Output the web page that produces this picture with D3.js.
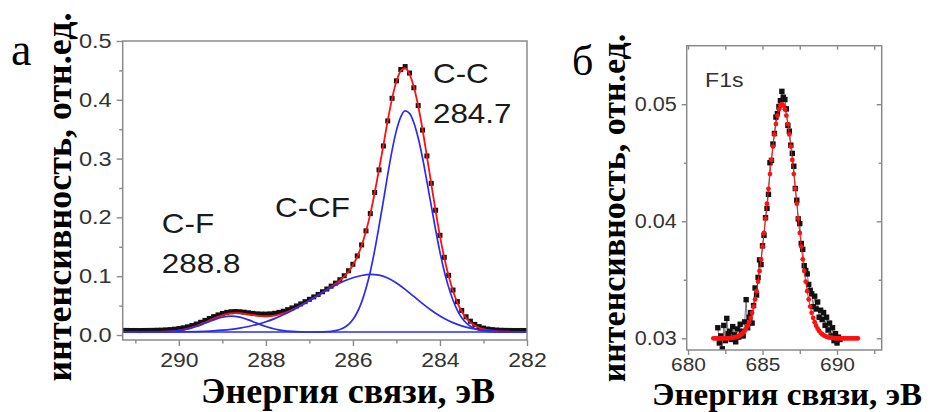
<!DOCTYPE html>
<html>
<head>
<meta charset="utf-8">
<script src="https://cdn.jsdelivr.net/npm/d3@7"></script>
<style>
  body { margin: 0; background: #fff; }
  svg { display: block; }
</style>
</head>
<body>
<script>
// ---------- panel a: C1s, measured points / fit / components ----------
let measuredA = [[291.3,.0078],[291.2,.0078],[291.1,.0077],[291.0,.0077],[290.9,.0076],[290.8,.0077],[290.7,.0078],[290.6,.0079],[290.5,.0081],[290.4,.0083],[290.3,.0087],[290.2,.0092],[290.1,.0099],[290.0,.0109],[289.9,.0122],[289.8,.0139],[289.7,.0161],[289.6,.0187],[289.5,.0216],[289.4,.0248],[289.3,.0281],[289.2,.0313],[289.1,.0342],[289.0,.0366],[288.9,.0385],[288.8,.0396],[288.7,.0399],[288.6,.0396],[288.5,.0388],[288.4,.0378],[288.3,.0368],[288.2,.0360],[288.1,.0356],[288.0,.0356],[287.9,.0360],[287.8,.0369],[287.7,.0385],[287.6,.0404],[287.5,.0431],[287.4,.0461],[287.3,.0494],[287.2,.0529],[287.1,.0567],[287.0,.0607],[286.9,.0648],[286.8,.0690],[286.7,.0736],[286.6,.0782],[286.5,.0831],[286.4,.0882],[286.3,.0940],[286.2,.1008],[286.1,.1093],[286.0,.1203],[285.9,.1345],[285.8,.1532],[285.7,.1771],[285.6,.2065],[285.5,.2425],[285.4,.2808],[285.3,.3215],[285.2,.3641],[285.1,.4025],[285.0,.4322],[284.9,.4515],[284.8,.4565],[284.7,.4455],[284.6,.4205],[284.5,.3902],[284.4,.3485],[284.3,.3045],[284.2,.2580],[284.1,.2122],[284.0,.1695],[283.9,.1321],[283.8,.1015],[283.7,.0765],[283.6,.0568],[283.5,.0418],[283.4,.0310],[283.3,.0235],[283.2,.0181],[283.1,.0143],[283.0,.0118],[282.9,.0102],[282.8,.0092],[282.7,.0085],[282.6,.0081],[282.5,.0079],[282.4,.0078],[282.3,.0077],[282.2,.0077],[282.1,.0077],[282.0,.0077]];

let fitA = [[291.3,.005],[291.2,.005],[291.1,.005],[291.0,.005],[290.9,.005],[290.8,.005],[290.7,.005],[290.6,.0051],[290.5,.0053],[290.4,.0055],[290.3,.0059],[290.2,.0063],[290.1,.0070],[290.0,.0078],[289.9,.0091],[289.8,.0107],[289.7,.0128],[289.6,.0153],[289.5,.0181],[289.4,.0213],[289.3,.0246],[289.2,.0278],[289.1,.0309],[289.0,.0335],[288.9,.0355],[288.8,.0367],[288.7,.0373],[288.6,.0371],[288.5,.0364],[288.4,.0352],[288.3,.0341],[288.2,.0329],[288.1,.0322],[288.0,.0319],[287.9,.0322],[287.8,.0331],[287.7,.0347],[287.6,.0368],[287.5,.0396],[287.4,.0428],[287.3,.0464],[287.2,.0502],[287.1,.0543],[287.0,.0587],[286.9,.0630],[286.8,.0675],[286.7,.0723],[286.6,.0770],[286.5,.0819],[286.4,.0870],[286.3,.0927],[286.2,.0996],[286.1,.1080],[286.0,.1190],[285.9,.1332],[285.8,.1521],[285.7,.1764],[285.6,.2060],[285.5,.2419],[285.4,.2818],[285.3,.3227],[285.2,.3648],[285.1,.4020],[285.0,.4314],[284.9,.4492],[284.8,.4537],[284.7,.4437],[284.6,.4216],[284.5,.3895],[284.4,.3495],[284.3,.3037],[284.2,.2572],[284.1,.2110],[284.0,.1683],[283.9,.1310],[283.8,.1002],[283.7,.0749],[283.6,.0550],[283.5,.0400],[283.4,.0292],[283.3,.0215],[283.2,.0161],[283.1,.0124],[283.0,.0100],[282.9,.0084],[282.8,.0073],[282.7,.0065],[282.6,.0060],[282.5,.0057],[282.4,.0055],[282.3,.0053],[282.2,.0052],[282.1,.0051],[282.0,.0051]];

// C-F component (288.8)
let cfA = [[290.8,.005],[290.6,.0051],[290.4,.0054],[290.2,.0061],[290.0,.0075],[289.8,.0102],[289.6,.0144],[289.4,.0199],[289.2,.0257],[289.0,.0303],[288.8,.0320],[288.6,.0303],[288.4,.0257],[288.2,.0199],[288.0,.0144],[287.8,.0102],[287.6,.0075],[287.4,.0061],[287.2,.0054],[287.0,.0051],[286.8,.005]];
// C-CF component (~285.6)
let ccfA = [[291.3,.005],[291.0,.005],[290.8,.005],[290.6,.005],[290.4,.0051],[290.2,.0052],[290.0,.0053],[289.8,.0055],[289.6,.0059],[289.4,.0064],[289.2,.0071],[289.0,.0082],[288.8,.0097],[288.6,.0118],[288.4,.0145],[288.2,.0180],[288.0,.0225],[287.8,.0279],[287.6,.0343],[287.4,.0417],[287.2,.0498],[287.0,.0586],[286.8,.0675],[286.6,.0764],[286.4,.0846],[286.2,.0918],[286.0,.0974],[285.8,.1012],[285.6,.1030],[285.4,.1018],[285.2,.0968],[285.0,.0884],[284.8,.0777],[284.6,.0656],[284.4,.0535],[284.2,.0422],[284.0,.0323],[283.8,.0242],[283.6,.0180],[283.4,.0134],[283.2,.0102],[283.0,.0081],[282.8,.0068],[282.6,.0059],[282.4,.0055],[282.2,.0052],[282.0,.0051]];
// C-C component (284.7)
let ccA = [[286.8,.005],[286.7,.0053],[286.6,.0056],[286.5,.0063],[286.4,.0074],[286.3,.0094],[286.2,.0128],[286.1,.0182],[286.0,.0265],[285.9,.0387],[285.8,.0559],[285.7,.0790],[285.6,.1080],[285.5,.1440],[285.4,.1850],[285.3,.2280],[285.2,.2730],[285.1,.3140],[285.0,.3480],[284.9,.3710],[284.8,.3810],[284.7,.3770],[284.6,.3610],[284.5,.3350],[284.4,.3010],[284.3,.2610],[284.2,.2200],[284.1,.1790],[284.0,.1410],[283.9,.1080],[283.8,.0810],[283.7,.0590],[283.6,.0420],[283.5,.0295],[283.4,.0208],[283.3,.0148],[283.2,.0109],[283.1,.0084],[283.0,.0069],[282.9,.0060],[282.8,.0055],[282.7,.0052]];
let baselineA = 0.005;

let xTicksA = [290, 288, 286, 284, 282];
let xMinorA = [291, 289, 287, 285, 283];
let yTicksA = [0, 0.1, 0.2, 0.3, 0.4, 0.5];
let yMinorA = [0.05, 0.15, 0.25, 0.35, 0.45];
let peakLabelsA = [
    {lines: ["C-F", "288.8"], e: 290.39, v: 0.1735},
    {lines: ["C-CF"], e: 287.79, v: 0.2007},
    {lines: ["C-C", "284.7"], e: 284.16, v: 0.4286}
];

// ---------- panel b: F1s ----------
let measuredB = [[682.0,.0309],[682.1,.0296],[682.2,.0302],[682.3,.0291],[682.4,.0311],[682.5,.0298],[682.6,.0317],[682.7,.0304],[682.8,.0306],[682.9,.0299],[683.0,.0310],[683.1,.0303],[683.2,.0297],[683.3,.0308],[683.4,.0301],[683.5,.0312],[683.6,.0306],[683.7,.0302],[683.8,.0314],[683.9,.0333],[684.0,.0309],[684.1,.0318],[684.2,.0322],[684.3,.0313],[684.4,.0328],[684.5,.0343],[684.6,.0337],[684.7,.0352],[684.8,.0367],[684.9,.0363],[685.0,.0379],[685.1,.0388],[685.2,.0403],[685.3,.0411],[685.4,.0423],[685.5,.0450],[685.6,.0452],[685.7,.0466],[685.8,.0475],[685.9,.0489],[686.0,.0492],[686.1,.0498],[686.2,.0503],[686.3,.0511],[686.4,.0506],[686.5,.0504],[686.6,.0496],[686.7,.0482],[686.8,.0477],[686.9,.0465],[687.0,.0458],[687.1,.0447],[687.2,.0428],[687.3,.0418],[687.4,.0402],[687.5,.0398],[687.6,.0381],[687.7,.0376],[687.8,.0362],[687.9,.0358],[688.0,.0355],[688.1,.0346],[688.2,.0341],[688.3,.0338],[688.4,.0327],[688.5,.0336],[688.6,.0325],[688.7,.0331],[688.8,.0318],[688.9,.0324],[689.0,.0316],[689.1,.0322],[689.2,.0311],[689.3,.0318],[689.4,.0307],[689.5,.0313],[689.6,.0302],[689.7,.0309],[689.8,.0298],[689.9,.0304],[690.0,.0296],[690.1,.0301],[690.2,.0299]];

let fitB = [[681.7,.03],[681.8,.03],[681.9,.03],[682.0,.03],[682.1,.03],[682.2,.03],[682.3,.03],[682.4,.03],[682.5,.03],[682.6,.03],[682.7,.03],[682.8,.03002],[682.9,.03003],[683.0,.03005],[683.1,.03007],[683.2,.0301],[683.3,.03014],[683.4,.03019],[683.5,.03026],[683.6,.03035],[683.7,.03047],[683.8,.03063],[683.9,.03082],[684.0,.03107],[684.1,.03137],[684.2,.03174],[684.3,.03218],[684.4,.03271],[684.5,.03332],[684.6,.03403],[684.7,.03484],[684.8,.03575],[684.9,.03675],[685.0,.03784],[685.1,.039],[685.2,.04023],[685.3,.0415],[685.4,.04277],[685.5,.04403],[685.6,.04524],[685.7,.04638],[685.8,.04742],[685.9,.0483],[686.0,.04903],[686.1,.04956],[686.2,.04989],[686.3,.05],[686.4,.04989],[686.5,.04956],[686.6,.04903],[686.7,.0483],[686.8,.04742],[686.9,.04638],[687.0,.04524],[687.1,.04403],[687.2,.04277],[687.3,.0415],[687.4,.04023],[687.5,.039],[687.6,.03784],[687.7,.03675],[687.8,.03575],[687.9,.03484],[688.0,.03403],[688.1,.03332],[688.2,.03271],[688.3,.03218],[688.4,.03174],[688.5,.03137],[688.6,.03107],[688.7,.03082],[688.8,.03063],[688.9,.03047],[689.0,.03035],[689.1,.03026],[689.2,.03019],[689.3,.03014],[689.4,.0301],[689.5,.03007],[689.6,.03005],[689.7,.03003],[689.8,.03002],[689.9,.03],[690.0,.03],[690.1,.03],[690.2,.03],[690.3,.03],[690.4,.03],[690.5,.03],[690.6,.03],[690.7,.03],[690.8,.03],[690.9,.03],[691.0,.03],[691.1,.03],[691.2,.03],[691.3,.03],[691.4,.03]];

let xTicksB = [680, 685, 690];
let xMinorB = [682.5, 687.5, 692.5];
let yTicksB = [0.03, 0.04, 0.05];
let yMinorB = [0.035, 0.045];

// ---------- layout ----------
let boxA = {left: 122.7, right: 527, top: 41, bottom: 340};
let boxB = {left: 686.7, right: 881.7, top: 45.7, bottom: 350};

let axisGray = "#8a8a8a";
let myblue = "#2b2bf0";
let myred = "#ff1010";
let sansFont = "'Liberation Sans', Arial, sans-serif";
let serifFont = "'Liberation Serif', 'Times New Roman', serif";

let svg = d3.select("body").append("svg")
    .attr("width", 930)
    .attr("height", 412);

// widen text horizontally like the stretched original
function stretch(sel, k) {
    sel.each(function () {
        let w = this.getComputedTextLength();
        d3.select(this).attr("textLength", w * k).attr("lengthAdjust", "spacingAndGlyphs");
    });
}

function styleAxis(g, fontSize) {
    g.select(".domain").remove();
    g.selectAll("line").attr("stroke", axisGray).attr("stroke-width", 1.4);
    g.selectAll("text")
        .attr("fill", "#333")
        .style("font-family", sansFont)
        .style("font-size", fontSize + "px");
}

let xA = d3.scaleLinear().domain([291.29, 282]).range([boxA.left, boxA.right]);
let yA = d3.scaleLinear().domain([-0.0085, 0.5]).range([boxA.bottom, boxA.top]);

let xB = d3.scaleLinear().domain([679.91, 693.0]).range([boxB.left, boxB.right]);
let yB = d3.scaleLinear().domain([0.029, 0.055]).range([boxB.bottom, boxB.top]);

drawPanelA();
drawPanelB();

function drawPanelA() {
    svg.append("clipPath").attr("id", "clipA")
        .append("rect")
        .attr("x", boxA.left).attr("y", boxA.top)
        .attr("width", boxA.right - boxA.left).attr("height", boxA.bottom - boxA.top);

    // axes
    let gx = svg.append("g")
        .attr("transform", "translate(0," + boxA.bottom + ")")
        .call(d3.axisBottom(xA).tickValues(xTicksA).tickSize(6).tickSizeOuter(0).tickPadding(7)
            .tickFormat(d3.format("d")));
    styleAxis(gx, 20);
    stretch(gx.selectAll("text"), 1.15);
    let gxm = svg.append("g")
        .attr("transform", "translate(0," + boxA.bottom + ")")
        .call(d3.axisBottom(xA).tickValues(xMinorA).tickSize(3.5).tickSizeOuter(0).tickFormat(""));
    styleAxis(gxm, 20);

    let gy = svg.append("g")
        .attr("transform", "translate(" + boxA.left + ",0)")
        .call(d3.axisLeft(yA).tickValues(yTicksA).tickSize(6).tickSizeOuter(0).tickPadding(5)
            .tickFormat(d3.format(".1f")));
    styleAxis(gy, 20);
    stretch(gy.selectAll("text"), 1.18);
    let gym = svg.append("g")
        .attr("transform", "translate(" + boxA.left + ",0)")
        .call(d3.axisLeft(yA).tickValues(yMinorA).tickSize(3.5).tickSizeOuter(0).tickFormat(""));
    styleAxis(gym, 20);

    let plot = svg.append("g").attr("clip-path", "url(#clipA)");

    // measured points
    plot.selectAll("rect.pt")
        .data(measuredA)
        .enter()
        .append("rect")
        .attr("class", "pt")
        .attr("x", d => xA(d[0]) - 2.5)
        .attr("y", d => yA(d[1]) - 2.5)
        .attr("width", 5)
        .attr("height", 5)
        .attr("fill", "#111");

    // fit
    plot.append("path")
        .datum(fitA)
        .attr("fill", "none")
        .attr("stroke", myred)
        .attr("stroke-width", 1.8)
        .attr("d", d3.line().x(d => xA(d[0])).y(d => yA(d[1])).curve(d3.curveMonotoneX));

    // baseline + components
    plot.append("path")
        .datum(xA.domain())
        .attr("fill", "none")
        .attr("stroke", myblue)
        .attr("stroke-width", 1.6)
        .attr("d", d3.line().x(d => xA(d)).y(() => yA(baselineA)));

    [cfA, ccfA, ccA].forEach(function (comp) {
        plot.append("path")
            .datum(comp)
            .attr("fill", "none")
            .attr("stroke", myblue)
            .attr("stroke-width", 1.7)
            .attr("d", d3.line().x(d => xA(d[0])).y(d => yA(d[1])).curve(d3.curveMonotoneX));
    });

    // frame (top + right)
    svg.append("rect")
        .attr("x", boxA.left).attr("y", boxA.top)
        .attr("width", boxA.right - boxA.left).attr("height", boxA.bottom - boxA.top)
        .attr("fill", "none")
        .attr("stroke", axisGray)
        .attr("stroke-width", 1.5);

    // peak labels
    peakLabelsA.forEach(function (p) {
        p.lines.forEach(function (line, i) {
            let t = svg.append("text")
                .attr("x", xA(p.e))
                .attr("y", yA(p.v) + i * 40.5)
                .attr("fill", "#1a1a1a")
                .style("font-family", sansFont)
                .style("font-size", "28px")
                .text(line);
            stretch(t, 1.12);
        });
    });

    svg.append("text")
        .attr("x", 11)
        .attr("y", 65)
        .style("font-family", serifFont)
        .style("font-size", "46px")
        .text("а");

    svg.append("text")
        .attr("transform", "translate(71,197) rotate(-90)")
        .attr("text-anchor", "middle")
        .style("font-family", serifFont)
        .style("font-weight", "bold")
        .style("font-size", "36px")
        .text("интенсивность, отн.ед.");

    svg.append("text")
        .attr("x", 348)
        .attr("y", 403)
        .attr("text-anchor", "middle")
        .style("font-family", serifFont)
        .style("font-weight", "bold")
        .style("font-size", "36px")
        .text("Энергия связи, эВ");
}

function drawPanelB() {
    svg.append("clipPath").attr("id", "clipB")
        .append("rect")
        .attr("x", boxB.left).attr("y", boxB.top)
        .attr("width", boxB.right - boxB.left).attr("height", boxB.bottom - boxB.top);

    let gx = svg.append("g")
        .attr("transform", "translate(0," + boxB.bottom + ")")
        .call(d3.axisBottom(xB).tickValues(xTicksB).tickSize(5).tickSizeOuter(0).tickPadding(3)
            .tickFormat(d3.format("d")));
    styleAxis(gx, 19);
    stretch(gx.selectAll("text"), 1.1);
    let gxm = svg.append("g")
        .attr("transform", "translate(0," + boxB.bottom + ")")
        .call(d3.axisBottom(xB).tickValues(xMinorB).tickSize(4).tickSizeOuter(0).tickFormat(""));
    styleAxis(gxm, 19);
    // top ticks, inward
    let gxt = svg.append("g")
        .attr("transform", "translate(0," + boxB.top + ")")
        .call(d3.axisBottom(xB).tickValues(xTicksB.concat(xMinorB)).tickSize(4).tickSizeOuter(0).tickFormat(""));
    styleAxis(gxt, 19);

    let gy = svg.append("g")
        .attr("transform", "translate(" + boxB.left + ",0)")
        .call(d3.axisLeft(yB).tickValues(yTicksB).tickSize(5).tickSizeOuter(0).tickPadding(5)
            .tickFormat(d3.format(".2f")));
    styleAxis(gy, 20);
    stretch(gy.selectAll("text"), 1.08);
    let gym = svg.append("g")
        .attr("transform", "translate(" + boxB.left + ",0)")
        .call(d3.axisLeft(yB).tickValues(yMinorB).tickSize(3).tickSizeOuter(0).tickFormat(""));
    styleAxis(gym, 20);
    // right ticks, inward
    let gyr = svg.append("g")
        .attr("transform", "translate(" + boxB.right + ",0)")
        .call(d3.axisLeft(yB).tickValues(yTicksB).tickSize(5).tickSizeOuter(0).tickFormat(""));
    styleAxis(gyr, 20);
    let gyrm = svg.append("g")
        .attr("transform", "translate(" + boxB.right + ",0)")
        .call(d3.axisLeft(yB).tickValues(yMinorB).tickSize(3).tickSizeOuter(0).tickFormat(""));
    styleAxis(gyrm, 20);

    let plot = svg.append("g").attr("clip-path", "url(#clipB)");

    plot.append("path")
        .datum(measuredB)
        .attr("fill", "none")
        .attr("stroke", "#555")
        .attr("stroke-width", 0.8)
        .attr("d", d3.line().x(d => xB(d[0])).y(d => yB(d[1])));

    plot.selectAll("rect.pt")
        .data(measuredB)
        .enter()
        .append("rect")
        .attr("class", "pt")
        .attr("x", d => xB(d[0]) - 2.7)
        .attr("y", d => yB(d[1]) - 2.7)
        .attr("width", 5.4)
        .attr("height", 5.4)
        .attr("fill", "#111");

    plot.append("path")
        .datum(fitB)
        .attr("fill", "none")
        .attr("stroke", myred)
        .attr("stroke-width", 1)
        .attr("d", d3.line().x(d => xB(d[0])).y(d => yB(d[1])).curve(d3.curveMonotoneX));

    plot.selectAll("circle.fit")
        .data(fitB)
        .enter()
        .append("circle")
        .attr("class", "fit")
        .attr("cx", d => xB(d[0]))
        .attr("cy", d => yB(d[1]))
        .attr("r", 2.4)
        .attr("fill", myred);

    svg.append("rect")
        .attr("x", boxB.left).attr("y", boxB.top)
        .attr("width", boxB.right - boxB.left).attr("height", boxB.bottom - boxB.top)
        .attr("fill", "none")
        .attr("stroke", axisGray)
        .attr("stroke-width", 1.5);

    let f1s = svg.append("text")
        .attr("x", xB(681.14))
        .attr("y", yB(0.05147))
        .attr("fill", "#333")
        .style("font-family", sansFont)
        .style("font-size", "21px")
        .text("F1s");
    stretch(f1s, 1.1);

    svg.append("text")
        .attr("x", 572)
        .attr("y", 75)
        .style("font-family", serifFont)
        .style("font-size", "42px")
        .text("б");

    svg.append("text")
        .attr("transform", "translate(625,208) rotate(-90)")
        .attr("text-anchor", "middle")
        .style("font-family", serifFont)
        .style("font-weight", "bold")
        .style("font-size", "34px")
        .text("интенсивность, отн.ед.");

    svg.append("text")
        .attr("x", 787)
        .attr("y", 405)
        .attr("text-anchor", "middle")
        .attr("textLength", 270)
        .attr("lengthAdjust", "spacingAndGlyphs")
        .style("font-family", serifFont)
        .style("font-weight", "bold")
        .style("font-size", "32px")
        .text("Энергия связи, эВ");
}
</script>
</body>
</html>
